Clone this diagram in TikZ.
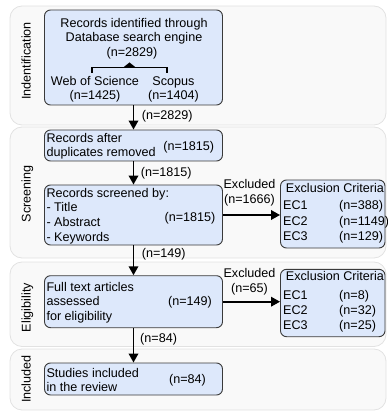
\documentclass[tikz,border=0pt]{standalone}
\usepackage{fontspec}
\setmainfont{Liberation Sans}
\usetikzlibrary{arrows.meta}
\definecolor{panelfill}{HTML}{F9F9F9}
\definecolor{panelline}{HTML}{E2E2E2}
\definecolor{boxfill}{HTML}{DDE8FB}
\definecolor{boxline}{HTML}{3A3A3A}
\begin{document}
\begin{tikzpicture}[x=1pt,y=-1pt,
  font=\fontsize{12.6}{14.5}\selectfont,
  panel/.style={draw=panelline, fill=panelfill, rounded corners=12pt, line width=0.8pt},
  stage/.style={rotate=90, anchor=base, inner sep=0pt},
  flowbox/.style={draw=boxline, fill=boxfill, rounded corners=6pt, line width=0.9pt,
                  inner sep=0pt, minimum width=178pt},
  critbox/.style={flowbox, minimum width=104.5pt},
  txt/.style={anchor=base west, inner sep=0pt},
  ctxt/.style={anchor=base, inner sep=0pt},
  flow/.style={line width=1.8pt, -{Triangle[length=9pt,width=9.5pt]}}
]
\useasboundingbox (0,0) rectangle (387,411);

% stage panels
\draw[panel] (10,6)   rectangle (386,125);
\draw[panel] (10,127) rectangle (386,258);
\draw[panel] (10,262) rectangle (386,346.5);
\draw[panel] (10,349) rectangle (386,410);

\node[stage] (stId)  at (30.5,61)    {Indentification};
\node[stage] (stScr) at (30.5,194)   {Screening};
\node[stage] (stEl)  at (30.5,307.5) {Eligibility};
\node[stage] (stIn)  at (30.5,379)   {Included};

% main flow boxes
\node[flowbox, minimum height=95pt] (ident)  at (133.5,57.5)  {};
\node[flowbox, minimum height=31pt] (dedup)  at (133.5,145.5) {};
\node[flowbox, minimum height=60pt] (screen) at (133.5,215)   {};
\node[flowbox, minimum height=52pt] (full)   at (133.5,301.7) {};
\node[flowbox, minimum height=32pt] (incl)   at (133.5,379)   {};

% exclusion criteria boxes
\node[critbox, minimum height=68pt]   (crit1) at (332.75,214) {};
\node[critbox, minimum height=67.4pt] (crit2) at (332.75,303) {};

% identification box contents
\node[ctxt] (idA) at (134,27.5) {Records identified through};
\node[ctxt] (idB) at (134,42)   {Database search engine};
\node[ctxt] (idN) at (132,56.5) {(n=2829)};
\node[ctxt] (wos)  at (95,85.5)  {Web of Science};
\node[ctxt] (wosN) at (95,100)   {(n=1425)};
\node[ctxt] (sco)  at (173.5,85.5) {Scopus};
\node[ctxt] (scoN) at (173.5,100)  {(n=1404)};
\coordinate (brL) at (92,73);
\coordinate (brR) at (167,73);
\draw[line width=1.1pt] (brL) -- ++(0,-5.3) -| (brR);
\fill (129.5,62.5) -- (123,67.7) -- (136,67.7) -- cycle;

% de-duplication box contents
\node[txt]  (ddA) at (46.3,142.3) {Records after};
\node[txt]  (ddB) at (46.3,156.7) {duplicates removed};
\node[ctxt] (ddN) at (188.7,151)  {(n=1815)};

% screening box contents
\node[txt]  (scA) at (46.3,197.7) {Records screened by:};
\node[txt]  (scB) at (46.3,211.7) {- Title};
\node[txt]  (scC) at (46.3,226.7) {- Abstract};
\node[txt]  (scD) at (46.3,241.7) {- Keywords};
\node[ctxt] (scN) at (190,221)    {(n=1815)};

% full-text box contents
\node[txt]  (ftA) at (46.3,291)   {Full text articles};
\node[txt]  (ftB) at (46.3,305.7) {assessed};
\node[txt]  (ftC) at (46.3,320)   {for eligibility};
\node[ctxt] (ftN) at (190,305)    {(n=149)};

% included box contents
\node[txt]  (inA) at (46.3,377.3) {Studies included};
\node[txt]  (inB) at (46.3,391.7) {in the review};
\node[ctxt] (inN) at (187.5,383.3) {(n=84)};

% exclusion criteria contents
\node[ctxt] (c1T) at (335,192.7) {Exclusion Criteria};
\node[txt] (c1a)  at (283,210)   {EC1};
\node[txt] (c1an) at (339,210)   {(n=388)};
\node[txt] (c1b)  at (283,225)   {EC2};
\node[txt] (c1bn) at (339,225)   {(n=1149)};
\node[txt] (c1c)  at (283,240)   {EC3};
\node[txt] (c1cn) at (339,240)   {(n=129)};

\node[ctxt] (c2T) at (335,280)   {Exclusion Criteria};
\node[txt] (c2a)  at (283,299.5) {EC1};
\node[txt] (c2an) at (339,299.5) {(n=8)};
\node[txt] (c2b)  at (283,314.5) {EC2};
\node[txt] (c2bn) at (339,314.5) {(n=32)};
\node[txt] (c2c)  at (283,329.5) {EC3};
\node[txt] (c2cn) at (339,329.5) {(n=25)};

% connectors
\draw[flow] (ident.south)  -- (dedup.north);
\draw[flow] (dedup.south)  -- (screen.north);
\draw[flow] (screen.south) -- (full.north);
\draw[flow] (full.south)   -- (incl.north);
\draw[flow] (screen.east)  -- (crit1.west |- screen.east);
\draw[flow] (full.east)    -- (crit2.west |- full.east);

% connector labels
\node[txt] (l1) at (141.7,120)   {(n=2829)};
\node[txt] (l2) at (140.7,176.7) {(n=1815)};
\node[txt] (l3) at (141.7,257.5) {(n=149)};
\node[txt] (l4) at (140,342.3)   {(n=84)};
\node[ctxt] (x1a) at (249.5,188.3) {Excluded};
\node[ctxt] (x1b) at (249.5,203.3) {(n=1666)};
\node[ctxt] (x2a) at (249.5,277.7) {Excluded};
\node[ctxt] (x2b) at (249.5,292.3) {(n=65)};
\end{tikzpicture}
\end{document}
